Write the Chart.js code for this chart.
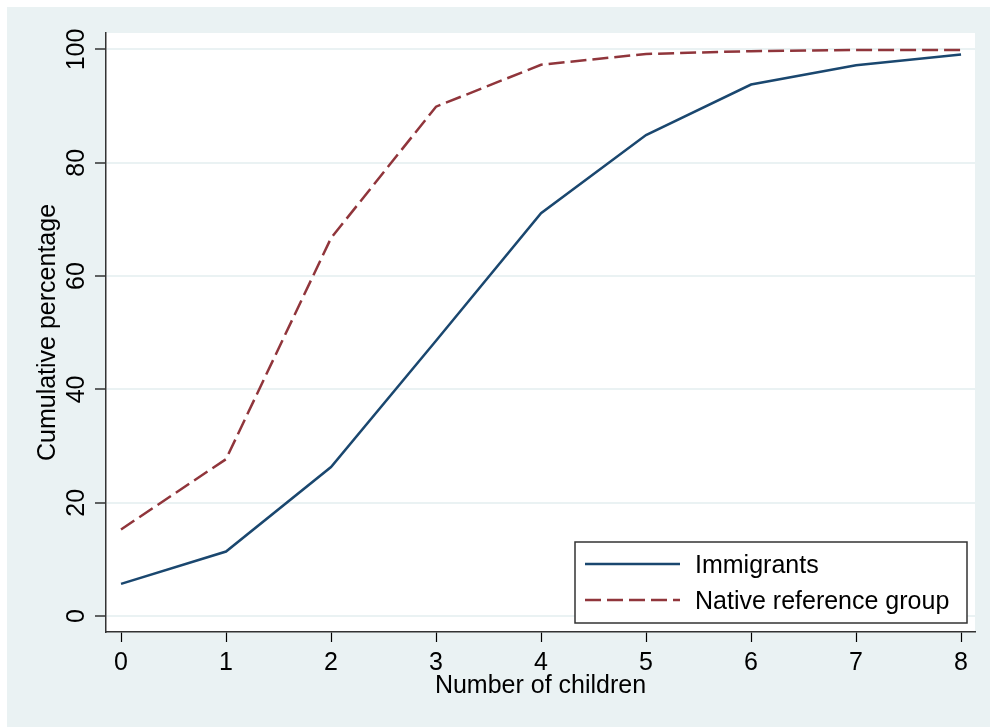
<!doctype html>
<html lang="en">
  <head>
    <meta charset="utf-8">
    <title>Cumulative percentage by number of children</title>
    <style>
      body { margin: 0; background: #fff; }
      canvas { display: block; }
    </style>
  </head>
  <body>
    <canvas id="cdf-chart" width="990" height="727"></canvas>

    <script src="https://cdn.jsdelivr.net/npm/chart.js"></script>
    <script>
        // data
        var children = [0, 1, 2, 3, 4, 5, 6, 7, 8]
        var immigrants = [5.7, 11.4, 26.3, 48.6, 71.1, 84.9, 93.8, 97.2, 99.1]
        var natives = [15.3, 27.7, 66.7, 89.9, 97.3, 99.2, 99.7, 99.9, 99.9]
        var yTicks = [0, 20, 40, 60, 80, 100]
        var xTicks = [0, 1, 2, 3, 4, 5, 6, 7, 8]

        var seriesNames = ["Immigrants", "Native reference group"]
        var xTitle = "Number of children"
        var yTitle = "Cumulative percentage"

        var stataBlue = "#1a476f"
        var stataRed = "#90353b"
        var bgColor = "#eaf2f3"
        var fontFamily = "'Liberation Sans', Arial, sans-serif"

        function toPoints(values) {
            return children.map(function (c, i) { return { x: c, y: values[i] } })
        }

        // page background + white plot region
        var backdrop = {
            id: 'backdrop',
            beforeDraw: function (chart) {
                var ctx = chart.ctx
                var a = chart.chartArea
                ctx.save()
                ctx.fillStyle = '#fff'
                ctx.fillRect(0, 0, chart.width, chart.height)
                ctx.fillStyle = bgColor
                ctx.fillRect(7, 7, chart.width - 7, chart.height - 7)
                ctx.fillStyle = '#fff'
                ctx.fillRect(a.left, a.top, a.right - a.left, a.bottom - a.top)
                ctx.restore()
            }
        }

        // stata style rotated y tick labels
        var rotatedYLabels = {
            id: 'rotatedYLabels',
            afterDraw: function (chart) {
                var ctx = chart.ctx
                var y = chart.scales.y
                ctx.save()
                ctx.fillStyle = '#000'
                ctx.font = '25px ' + fontFamily
                ctx.textAlign = 'center'
                ctx.textBaseline = 'alphabetic'
                yTicks.forEach(function (v) {
                    var py = y.getPixelForValue(v)
                    ctx.save()
                    ctx.translate(84, py)
                    ctx.rotate(-Math.PI / 2)
                    ctx.fillText(String(v), 0, 0)
                    ctx.restore()
                })
                ctx.restore()
            }
        }

        // boxed legend inside the plot region
        var boxLegend = {
            id: 'boxLegend',
            afterDraw: function (chart) {
                var ctx = chart.ctx
                var a = chart.chartArea
                var right = a.right - 8
                var bottom = a.bottom - 9
                var w = 392, h = 81
                var left = right - w, top = bottom - h
                ctx.save()
                ctx.fillStyle = '#fff'
                ctx.fillRect(left, top, w, h)
                ctx.strokeStyle = '#333'
                ctx.lineWidth = 1.5
                ctx.strokeRect(left, top, w, h)
                ctx.font = '25px ' + fontFamily
                ctx.textBaseline = 'alphabetic'
                ctx.textAlign = 'left'
                chart.data.datasets.forEach(function (ds, i) {
                    var ly = top + 22 + i * 36
                    ctx.strokeStyle = ds.borderColor
                    ctx.lineWidth = ds.borderWidth
                    ctx.setLineDash(ds.borderDash || [])
                    ctx.beginPath()
                    ctx.moveTo(left + 10, ly)
                    ctx.lineTo(left + 105, ly)
                    ctx.stroke()
                    ctx.setLineDash([])
                    ctx.fillStyle = '#000'
                    ctx.fillText(ds.label, left + 120, ly + 9)
                })
                ctx.restore()
            }
        }

        new Chart(document.getElementById("cdf-chart"), {
            type: 'line',
            data: {
                datasets: [
                    {
                        label: seriesNames[0],
                        data: toPoints(immigrants),
                        borderColor: stataBlue,
                        borderWidth: 2.5,
                        pointRadius: 0,
                        fill: false,
                        tension: 0
                    },
                    {
                        label: seriesNames[1],
                        data: toPoints(natives),
                        borderColor: stataRed,
                        borderWidth: 2.5,
                        borderDash: [16, 6],
                        pointRadius: 0,
                        fill: false,
                        tension: 0
                    }
                ]
            },
            options: {
                responsive: false,
                animation: false,
                layout: { padding: { top: 33, right: 15, left: 0, bottom: 0 } },
                plugins: {
                    legend: { display: false },
                    tooltip: { enabled: false }
                },
                scales: {
                    x: {
                        type: 'linear',
                        min: -0.143,
                        max: 8.133,
                        afterBuildTicks: function (s) { s.ticks = xTicks.map(function (v) { return { value: v } }) },
                        afterFit: function (s) { s.height = 95 },
                        grid: {
                            drawOnChartArea: false,
                            drawTicks: true,
                            tickLength: 10,
                            tickColor: '#000',
                            tickWidth: 1.2
                        },
                        border: { color: '#333', width: 1.5 },
                        ticks: {
                            color: '#000',
                            padding: 6,
                            maxRotation: 0,
                            font: { family: fontFamily, size: 25 }
                        },
                        title: {
                            display: true,
                            text: xTitle,
                            color: '#000',
                            font: { family: fontFamily, size: 25 },
                            padding: { top: 0, bottom: 26 }
                        }
                    },
                    y: {
                        type: 'linear',
                        min: -2.8,
                        max: 102.9,
                        afterBuildTicks: function (s) { s.ticks = yTicks.map(function (v) { return { value: v } }) },
                        afterFit: function (s) { s.width = 106 },
                        grid: {
                            color: bgColor,
                            lineWidth: 2,
                            drawTicks: true,
                            tickLength: 11,
                            tickColor: '#000',
                            tickWidth: 1.2
                        },
                        border: { color: '#333', width: 1.5 },
                        ticks: { display: false },
                        title: {
                            display: true,
                            text: yTitle,
                            color: '#000',
                            font: { family: fontFamily, size: 25 },
                            padding: { top: 33, bottom: 0 }
                        }
                    }
                }
            },
            plugins: [backdrop, rotatedYLabels, boxLegend]
        });
    </script>
  </body>
</html>
